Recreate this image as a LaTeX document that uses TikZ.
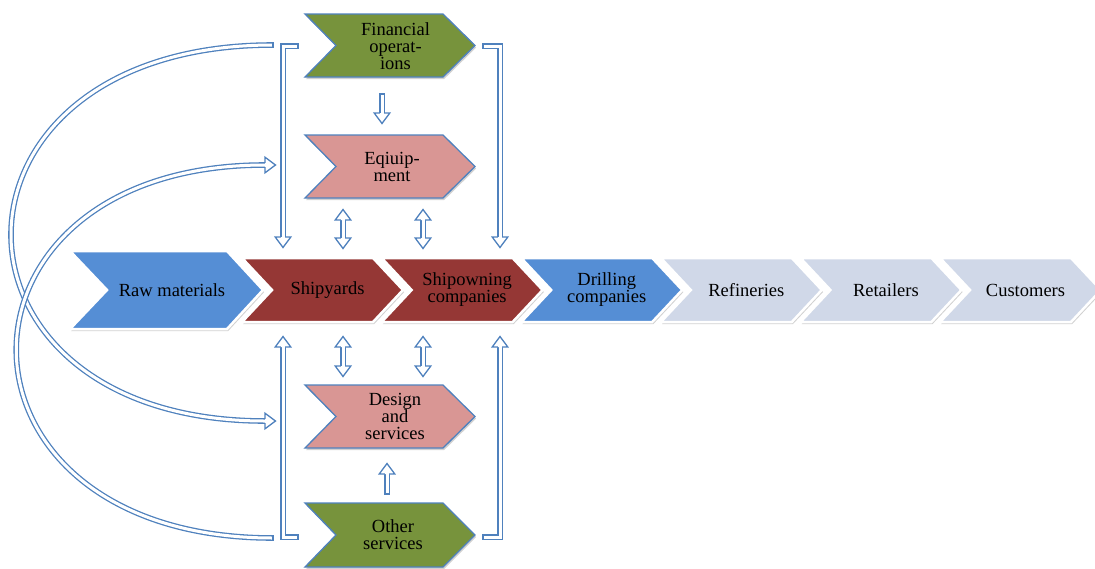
\documentclass[tikz,border=0pt]{standalone}
\usepackage{fontspec}
\setmainfont{Liberation Serif}
\usetikzlibrary{shadows}
\definecolor{abl}{HTML}{4F81BD}
\definecolor{cblue}{HTML}{558ED5}
\definecolor{cred}{HTML}{953735}
\definecolor{clight}{HTML}{D0D8E8}
\definecolor{colive}{HTML}{77933C}
\definecolor{cpink}{HTML}{D99694}
% chevron: #1 left x, #2 notch depth, #3 top-right x, #4 tip depth, #5 top y, #6 bottom y, #7 style
\newcommand\chev[7]{\path[#7] (#1,#5) -- ({#3},#5) -- ({#3+#4},{(#5+#6)/2}) -- ({#3},#6) -- (#1,#6) -- ({#1+#2},{(#5+#6)/2}) -- cycle;}
\newcommand\headD[1]{\begin{scope}[shift={(#1)}]\filldraw[ahead] (-2.2,0) -- (-7.8,0) -- (0,10.5) -- (7.8,0) -- (2.2,0);\end{scope}}
\newcommand\headU[1]{\begin{scope}[shift={(#1)}]\filldraw[ahead] (-2.2,0) -- (-7.8,0) -- (0,-10.5) -- (7.8,0) -- (2.2,0);\end{scope}}
\newcommand\headR[1]{\begin{scope}[shift={(#1)}]\filldraw[ahead] (0,-2.2) -- (0,-7.8) -- (10.5,0) -- (0,7.8) -- (0,2.2);\end{scope}}
\newcommand\capV[1]{\draw[abl,line width=1.3pt] ([xshift=-2.85pt]#1) -- ([xshift=2.85pt]#1);}
\newcommand\capH[1]{\draw[abl,line width=1.3pt] ([yshift=-2.85pt]#1) -- ([yshift=2.85pt]#1);}
\begin{document}
\begin{tikzpicture}[x=1pt,y=-1pt,
  hol/.style={draw=abl,line width=1.3pt,double=white,double distance=3pt,line join=miter},
  ahead/.style={draw=abl,fill=white,line width=1.3pt,line join=miter},
  shad/.style={drop shadow={shadow xshift=1.2pt,shadow yshift=-2pt,opacity=0.3,fill=black!60}},
  rowch/.style={draw=white,line width=2.5pt,line join=miter,shad},
  colch/.style={draw=abl,line width=1.3pt,line join=miter,shad},
  lbl/.style={align=center,font=\fontsize{18.5}{17}\selectfont,text=black,inner sep=0pt}]
\useasboundingbox (0,0) rectangle (1095,568);
\clip (0,0) rectangle (1095,568);

% ---- main row ----
\chev{70}{37}{227}{36}{251}{329}{rowch,fill=cblue}
\chev{242}{30}{373}{30}{258}{322}{rowch,fill=cred}
\chev{381.6}{30}{512.6}{30}{258}{322}{rowch,fill=cred}
\chev{521.2}{30}{652.2}{30}{258}{322}{rowch,fill=cblue}
\chev{660.8}{30}{791.8}{30}{258}{322}{rowch,fill=clight}
\chev{800.4}{30}{931.4}{30}{258}{322}{rowch,fill=clight}
\chev{940}{30}{1071}{30}{258}{322}{rowch,fill=clight}
\node[lbl] (raw) at (172,290) {Raw materials};
\node[lbl] (ship) at (327.5,290) {Shipyards};
\node[lbl] (own) at (467.1,290) {Shipowning\\companies};
\node[lbl] (drill) at (606.7,290) {Drilling\\companies};
\node[lbl] (ref) at (746.3,290) {Refineries};
\node[lbl] (ret) at (885.9,290) {Retailers};
\node[lbl] (cust) at (1025.5,290) {Customers};

% ---- column ----
\chev{305}{31}{443}{32}{14}{77}{colch,fill=colive}
\chev{305}{31}{443}{32}{135}{198}{colch,fill=cpink}
\chev{305}{31}{443}{32}{385}{448}{colch,fill=cpink}
\chev{305}{31}{443}{32}{503}{567}{colch,fill=colive}
\node[lbl] (fin) at (395.5,46) {Financial\\operat-\\ions};
\node[lbl] (equip) at (392,166.5) {Eqiuip-\\ment};
\node[lbl] (design) at (395,416.5) {Design\\and\\services};
\node[lbl] (other) at (393,535) {Other\\services};

% ---- small arrows ----
\coordinate (fe1) at (382,94);  \coordinate (fe2) at (382,113);
\draw[hol] (fe1) -- (fe2); \capV{fe1} \headD{fe2}
\coordinate (od1) at (387,494); \coordinate (od2) at (387,474);
\draw[hol] (od1) -- (od2); \capV{od1} \headU{od2}
\foreach \xx/\nm in {343/a,423/b}{
  \coordinate (\nm t) at (\xx,220); \coordinate (\nm b) at (\xx,238);
  \draw[hol] (\nm t) -- (\nm b); \headU{\nm t} \headD{\nm b}
  \coordinate (\nm u) at (\xx,347); \coordinate (\nm d) at (\xx,366);
  \draw[hol] (\nm u) -- (\nm d); \headU{\nm u} \headD{\nm d}
}

% ---- brackets ----
\coordinate (lt0) at (298,46); \coordinate (lt1) at (283,46); \coordinate (lt2) at (283,237);
\draw[hol] (lt0) -- (lt1) -- (lt2); \capH{lt0} \headD{lt2}
\coordinate (lb0) at (298,537); \coordinate (lb1) at (283,537); \coordinate (lb2) at (283,347);
\draw[hol] (lb0) -- (lb1) -- (lb2); \capH{lb0} \headU{lb2}
\coordinate (rt0) at (483,46); \coordinate (rt1) at (500,46); \coordinate (rt2) at (500,237);
\draw[hol] (rt0) -- (rt1) -- (rt2); \capH{rt0} \headD{rt2}
\coordinate (rb0) at (483,537); \coordinate (rb1) at (500,537); \coordinate (rb2) at (500,347);
\draw[hol] (rb0) -- (rb1) -- (rb2); \capH{rb0} \headU{rb2}

% ---- curved arrows ----
\coordinate (ca0) at (273,45); \coordinate (ca1) at (265,421);
\draw[hol] (ca0) .. controls (-75,45) and (-75,421) .. (ca1); \capH{ca0} \headR{ca1}
\coordinate (cb0) at (273,538); \coordinate (cb1) at (265,165);
\draw[hol] (cb0) .. controls (-68,538) and (-68,165) .. (cb1); \capH{cb0} \headR{cb1}
\end{tikzpicture}
\end{document}
